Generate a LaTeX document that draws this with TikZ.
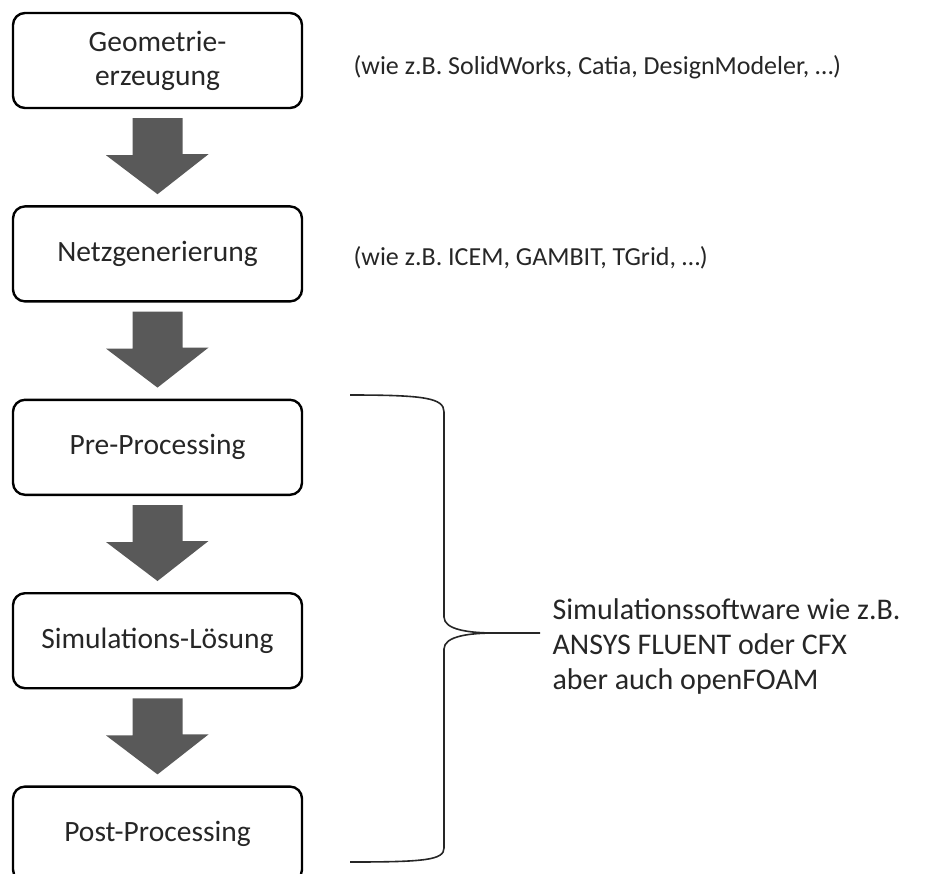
\documentclass[tikz,border=0pt]{standalone}
\usepackage{fontspec}
\setmainfont{Carlito}
\usetikzlibrary{positioning,calc}

\tikzset{
  stepbox/.style={draw, rounded corners=12pt, line width=2.4pt,
    minimum width=289pt, minimum height=95pt, align=center,
    text=black!85, font=\fontsize{29.5}{34}\selectfont},
  blockarrow/.style={fill=black!65},
  sidetext/.style={anchor=west, text=black!85, align=left,
    font=\fontsize{26}{35}\selectfont}
}

\begin{document}
\begin{tikzpicture}[x=1pt, y=-1pt]
  \useasboundingbox (0,0) rectangle (933,873);
  % process steps
  \node[stepbox] (geo) at (157.5,60.5) {Geometrie-\\erzeugung};
  \node[stepbox, below=96pt of geo] (netz) {Netzgenerierung};
  \node[stepbox, below=96pt of netz] (pre) {Pre-Processing};
  \node[stepbox, below=96pt of pre] (sim) {Simulations-Lösung};
  \node[stepbox, below=96pt of sim] (post) {Post-Processing};
  % block arrows between the steps
  \foreach \a/\b in {geo/netz, netz/pre, pre/sim, sim/post}
    \fill[blockarrow] ($(\a.south)+(-25,9)$) -- ++(50,0) -- ++(0,36)
      -- ++(26,0) -- ($(\b.north)+(0,-11)$) -- ++(-51.5,-39) -- ++(26.5,0) -- cycle;
  % side notes
  \node[sidetext] (geonote) at (350,67) {(wie z.B. SolidWorks, Catia, DesignModeler, \dots)};
  \node[sidetext] (netznote) at (350,258) {(wie z.B. ICEM, GAMBIT, TGrid, \dots)};
  % brace over the simulation software steps
  \coordinate (btop) at (350,395);
  \coordinate (bbot) at (350,862);
  \coordinate (btip) at (540,633);
  \draw[line width=1.6pt, black!85] (btop) .. controls (425,395) and (444,398) .. (444,412)
    -- (444,617) .. controls (444,630) and (470,633) .. (495,633) -- (btip)
    (495,633) .. controls (470,633) and (444,636) .. (444,649)
    -- (444,848) .. controls (444,860) and (425,862) .. (bbot);
  \node[sidetext, font=\fontsize{30}{35}\selectfont] (simnote) at (549,646) {Simulationssoftware wie z.B.\\ANSYS FLUENT oder CFX\\aber auch openFOAM};
\end{tikzpicture}
\end{document}
